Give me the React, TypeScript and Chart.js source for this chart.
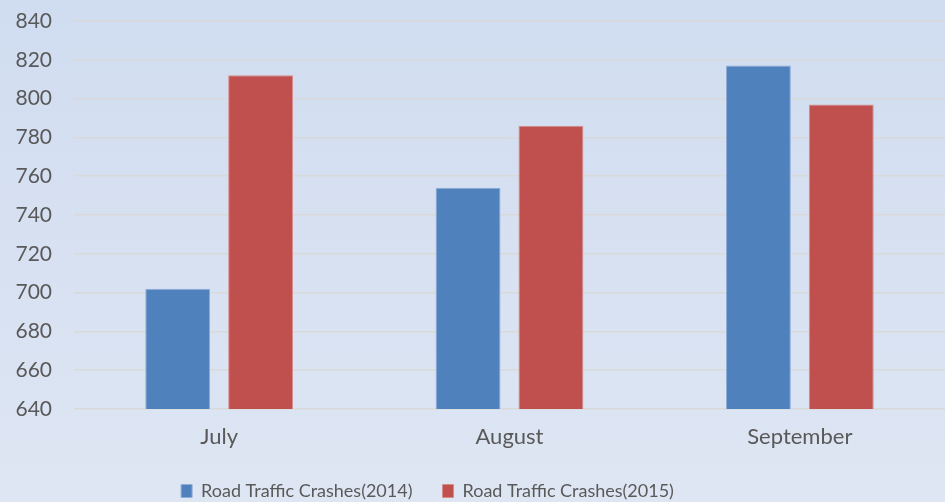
import React, { useEffect, useRef } from "react";
import { Chart, registerables } from "chart.js";

Chart.register(...registerables);

const categories = ["July", "August", "September"];
const series2014 = [702, 754, 817];
const series2015 = [812, 786, 797];
const seriesLabels = ["Road Traffic Crashes(2014)", "Road Traffic Crashes(2015)"];
const yMin = 640;
const yMax = 840;
const yStep = 20;

const FONT = "Lato, 'Noto Sans', sans-serif";

const legendTweak = {
  id: "legendTweak",
  beforeUpdate(chart: any) {
    const legend = chart.legend;
    if (legend && !legend._patched) {
      legend._patched = true;
      const origFit = legend.fit.bind(legend);
      legend.fit = function () {
        origFit();
        this.height = 51;
        this.minSize = { width: this.width, height: 51 };
      };
    }
  },
  afterLayout(chart: any) {
    const legend = chart.legend;
    if (legend) {
      legend.left -= 45;
      legend.right -= 45;
      legend.top += 1;
      legend.bottom += 1;
    }
  },
};

export default function App() {
  const ref = useRef<HTMLCanvasElement | null>(null);

  useEffect(() => {
    document.body.style.margin = "0";
    const canvas = ref.current;
    if (!canvas) return;
    const chart = new Chart(canvas, {
      type: "bar",
      data: {
        labels: categories,
        datasets: [
          {
            label: seriesLabels[0],
            data: series2014,
            backgroundColor: "#4f81bd",
            borderColor: "#8fadd8",
            borderWidth: 1,
          },
          {
            label: seriesLabels[1],
            data: series2015,
            backgroundColor: "#c0504d",
            borderColor: "#d88c8a",
            borderWidth: 1,
          },
        ],
      },
      plugins: [legendTweak],
      options: {
        animation: false,
        responsive: false,
        maintainAspectRatio: false,
        layout: { padding: { top: 21, right: 0, left: 0, bottom: 0 } },
        datasets: {
          bar: { categoryPercentage: 0.571, barPercentage: 0.783 },
        },
        scales: {
          x: {
            grid: { display: false, drawTicks: false },
            border: { display: false },
            ticks: {
              color: "#595959",
              font: { family: FONT, size: 22 },
              padding: 15,
            },
            afterFit: (scale: any) => {
              scale.height = 42;
            },
          },
          y: {
            min: yMin,
            max: yMax,
            grid: { color: "#d9d9d9", lineWidth: 1.5, drawTicks: false },
            border: { display: false },
            ticks: {
              stepSize: yStep,
              color: "#595959",
              font: { family: FONT, size: 21 },
              padding: 22,
            },
            afterFit: (scale: any) => {
              scale.width = 74;
              scale.paddingTop = 0;
              scale.paddingBottom = 0;
            },
          },
        },
        plugins: {
          legend: {
            position: "bottom",
            labels: {
              color: "#595959",
              font: { family: FONT, size: 18 },
              boxWidth: 11,
              boxHeight: 13,
              padding: 30,
            },
          },
          tooltip: { enabled: false },
        },
      },
    });
    return () => chart.destroy();
  }, []);

  return (
    <div
      style={{
        position: "fixed",
        left: 0,
        top: 0,
        width: 945,
        height: 502,
        background: "linear-gradient(180deg, #d0dcf0 0%, #dee6f3 100%)",
      }}
    >
      <canvas ref={ref} width={945} height={502} style={{ width: 945, height: 502 }} />
    </div>
  );
}
